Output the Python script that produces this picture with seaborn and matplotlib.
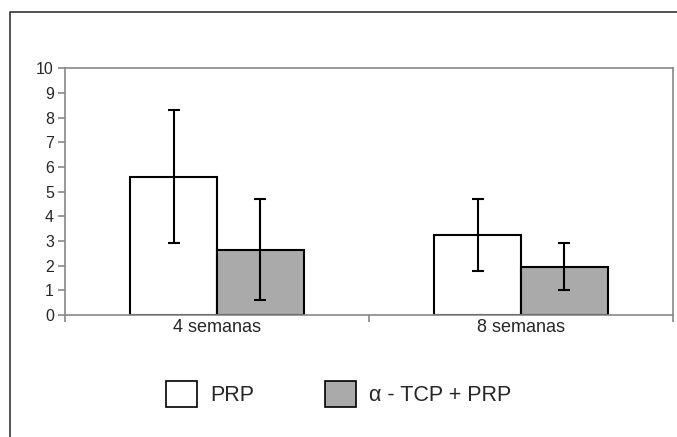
import matplotlib
matplotlib.use("Agg")
import matplotlib.pyplot as plt
from matplotlib.lines import Line2D
from matplotlib.patches import Patch
import pandas as pd
import seaborn as sns

sns.set_style("white")
plt.rcParams['font.family'] = ['Liberation Sans', 'DejaVu Sans']

semanas = ['4 semanas', '8 semanas']
grupos = ['PRP', 'α - TCP + PRP']
prp = [5.6, 3.25]
prp_err = [2.7, 1.45]
tcp = [2.65, 1.95]
tcp_err = [2.05, 0.95]
yticks = list(range(0, 11))

df = pd.DataFrame({
    'semana': semanas * 2,
    'grupo': [grupos[0]] * 2 + [grupos[1]] * 2,
    'valor': prp + tcp,
})
errs = {grupos[0]: prp_err, grupos[1]: tcp_err}
cores = {grupos[0]: 'white', grupos[1]: '#aaaaaa'}

fig = plt.figure(figsize=(6.77, 4.37), dpi=100)
ax = fig.add_axes([0.096, 0.279, 0.898, 0.565])

sns.barplot(data=df, x='semana', y='valor', hue='grupo', palette=cores,
            width=0.57, errorbar=None, edgecolor='black', linewidth=1.5,
            saturation=1, legend=False, ax=ax)

for cont, g in zip(ax.containers, grupos):
    xs = [b.get_x() + b.get_width() / 2 for b in cont]
    ys = [b.get_height() for b in cont]
    ax.errorbar(xs, ys, yerr=errs[g], fmt='none', ecolor='black',
                elinewidth=1.5, capsize=4.5, capthick=1.5)

ax.set_xlim(-0.5, 1.5)
ax.set_ylim(0, 10)
ax.set_yticks(yticks)
ax.set_xlabel('')
ax.set_ylabel('')
for s in ax.spines.values():
    s.set_color('#888888')
    s.set_linewidth(1.2)
ax.tick_params(axis='y', which='major', direction='out', length=5,
               color='#888888', width=1.2, labelsize=11.5, pad=3, left=True)
ax.set_xticks([-0.5, 0.5, 1.5], minor=True)
ax.tick_params(axis='x', which='minor', direction='out', length=5,
               color='#888888', width=1.2, bottom=True)
ax.tick_params(axis='x', which='major', length=0, labelsize=13, pad=3)

handles = [Patch(facecolor=cores[g], edgecolor='black', linewidth=1.2, label=g)
           for g in grupos]
fig.legend(handles=handles, loc='center', bbox_to_anchor=(0.5, 0.098),
           ncol=2, frameon=False, fontsize=15.5, handlelength=1.45,
           handleheight=1.45, handletextpad=0.6, columnspacing=3.3)

fig.add_artist(Line2D([0.0148, 0.0148, 1.0], [0.0, 0.9725, 0.9725],
                      transform=fig.transFigure, color='#333333', linewidth=1.2))

fig.savefig('out.png', dpi=100)
